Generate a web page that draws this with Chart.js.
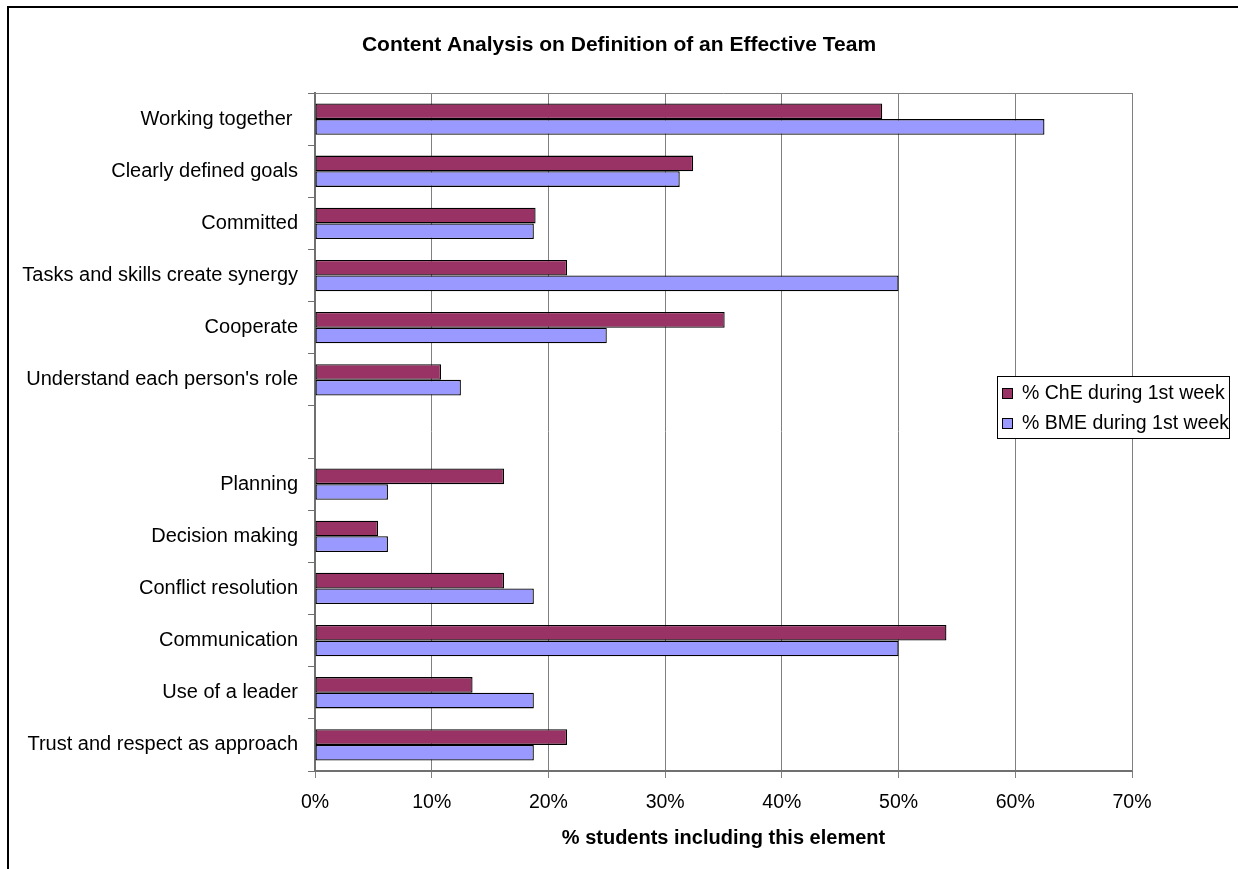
<!DOCTYPE html>
<html>
<head>
<meta charset="utf-8">
<script src="https://cdn.jsdelivr.net/npm/chart.js@4/dist/chart.umd.min.js"></script>
<style>
  html, body { margin: 0; padding: 0; background: #fff; overflow: hidden; }
  #wrap { position: relative; width: 1238px; height: 869px; }
  #frame { position: absolute; left: 7px; top: 6px; width: 1300px; height: 900px;
           border: 2px solid #000; pointer-events: none; }
</style>
</head>
<body>
<div id="wrap">
  <canvas id="teamCanvas" width="1238" height="869"></canvas>
  <div id="frame"></div>
</div>
<script>
// categories, top to bottom (blank row separates the two groups)
var categories = [
    "Working together ",
    "Clearly defined goals",
    "Committed",
    "Tasks and skills create synergy",
    "Cooperate",
    "Understand each person's role",
    "",
    "Planning",
    "Decision making",
    "Conflict resolution",
    "Communication",
    "Use of a leader",
    "Trust and respect as approach"
];

// % ChE during 1st week
var cheValues = [48.6, 32.4, 18.9, 21.6, 35.1, 10.8, null, 16.2, 5.4, 16.2, 54.1, 13.5, 21.6];
// % BME during 1st week
var bmeValues = [62.5, 31.25, 18.75, 50, 25, 12.5, null, 6.25, 6.25, 18.75, 50, 18.75, 18.75];

var xTicks = [0, 10, 20, 30, 40, 50, 60, 70];

var chartTitle = 'Content Analysis on Definition of an Effective Team';

var fontFamily = "'Liberation Sans', Arial, sans-serif";
var gridColor = '#808080';

// title centred on the whole picture, not on the plot
var pageTitle = {
    id: 'pageTitle',
    afterDraw: function(chart) {
        var ctx = chart.ctx;
        ctx.save();
        ctx.font = 'bold 21px ' + fontFamily;
        ctx.fillStyle = '#000';
        ctx.textAlign = 'center';
        ctx.textBaseline = 'middle';
        ctx.fillText(chartTitle, chart.width / 2, 45);
        ctx.restore();
    }
};

// thin frame round the plot area (top + right edges like Excel)
var plotFrame = {
    id: 'plotFrame',
    beforeDatasetsDraw: function(chart) {
        var a = chart.chartArea, ctx = chart.ctx;
        ctx.save();
        ctx.strokeStyle = gridColor;
        ctx.lineWidth = 1;
        ctx.beginPath();
        ctx.moveTo(a.left, a.top + 0.5);
        ctx.lineTo(a.right + 0.5, a.top + 0.5);
        ctx.lineTo(a.right + 0.5, a.bottom);
        ctx.stroke();
        ctx.restore();
    }
};

// legend box drawn on top of the plot
var boxLegend = {
    id: 'boxLegend',
    afterDraw: function(chart) {
        var ctx = chart.ctx;
        var x = 997, y = 376, w = 232, h = 62;
        ctx.save();
        ctx.fillStyle = '#fff';
        ctx.fillRect(x, y, w, h);
        ctx.strokeStyle = '#000';
        ctx.lineWidth = 1;
        ctx.strokeRect(x + 0.5, y + 0.5, w, h);
        ctx.font = '19.5px ' + fontFamily;
        ctx.textBaseline = 'middle';
        chart.data.datasets.forEach(function(ds, i) {
            var cy = y + 17 + i * 30;
            ctx.fillStyle = ds.backgroundColor;
            ctx.fillRect(x + 5, cy - 5, 10, 10);
            ctx.strokeStyle = '#000';
            ctx.strokeRect(x + 5.5, cy - 4.5, 10, 10);
            ctx.fillStyle = '#000';
            ctx.fillText(ds.label, x + 25, cy + 1);
        });
        ctx.restore();
    }
};

var config = {
    type: 'bar',
    data: {
        labels: categories,
        datasets: [{
            label: '% ChE during 1st week',
            data: cheValues,
            backgroundColor: '#993366',
            borderColor: '#000',
            borderWidth: 1.3,
            borderSkipped: false
        },{
            label: '% BME during 1st week',
            data: bmeValues,
            backgroundColor: '#9999FF',
            borderColor: '#000',
            borderWidth: 1.3,
            borderSkipped: false
        }]
    },
    options: {
        indexAxis: 'y',
        responsive: false,
        animation: false,
        categoryPercentage: 0.6,
        barPercentage: 1.0,
        layout: { padding: { left: 10, right: 106, top: 93, bottom: 18 } },
        plugins: {
            legend: { display: false },
            tooltip: { enabled: false },
            title: { display: false }
        },
        scales: {
            x: {
                min: 0,
                max: 70,
                afterBuildTicks: function(scale) {
                    scale.ticks = xTicks.map(function(v) { return { value: v }; });
                },
                afterFit: function(scale) { scale.height = 80; },
                grid: { color: gridColor, lineWidth: 1, tickLength: 7, tickColor: gridColor },
                border: { color: '#707070', width: 2 },
                ticks: {
                    color: '#000',
                    padding: 13,
                    font: { family: fontFamily, size: 19.5 },
                    callback: function(v) { return v + '%'; }
                },
                title: {
                    display: true,
                    text: '% students including this element',
                    color: '#000',
                    font: { family: fontFamily, size: 20, weight: 'bold' },
                    padding: { top: 2, bottom: 1 }
                }
            },
            y: {
                afterFit: function(scale) { scale.width = 305; },
                grid: { drawOnChartArea: false, offset: true, tickLength: 7, color: '#707070' },
                border: { color: '#707070', width: 2 },
                ticks: {
                    color: '#000',
                    padding: 10,
                    autoSkip: false,
                    font: { family: fontFamily, size: 20 }
                }
            }
        }
    },
    plugins: [pageTitle, plotFrame, boxLegend]
};

new Chart(document.getElementById('teamCanvas'), config);
</script>
</body>
</html>
